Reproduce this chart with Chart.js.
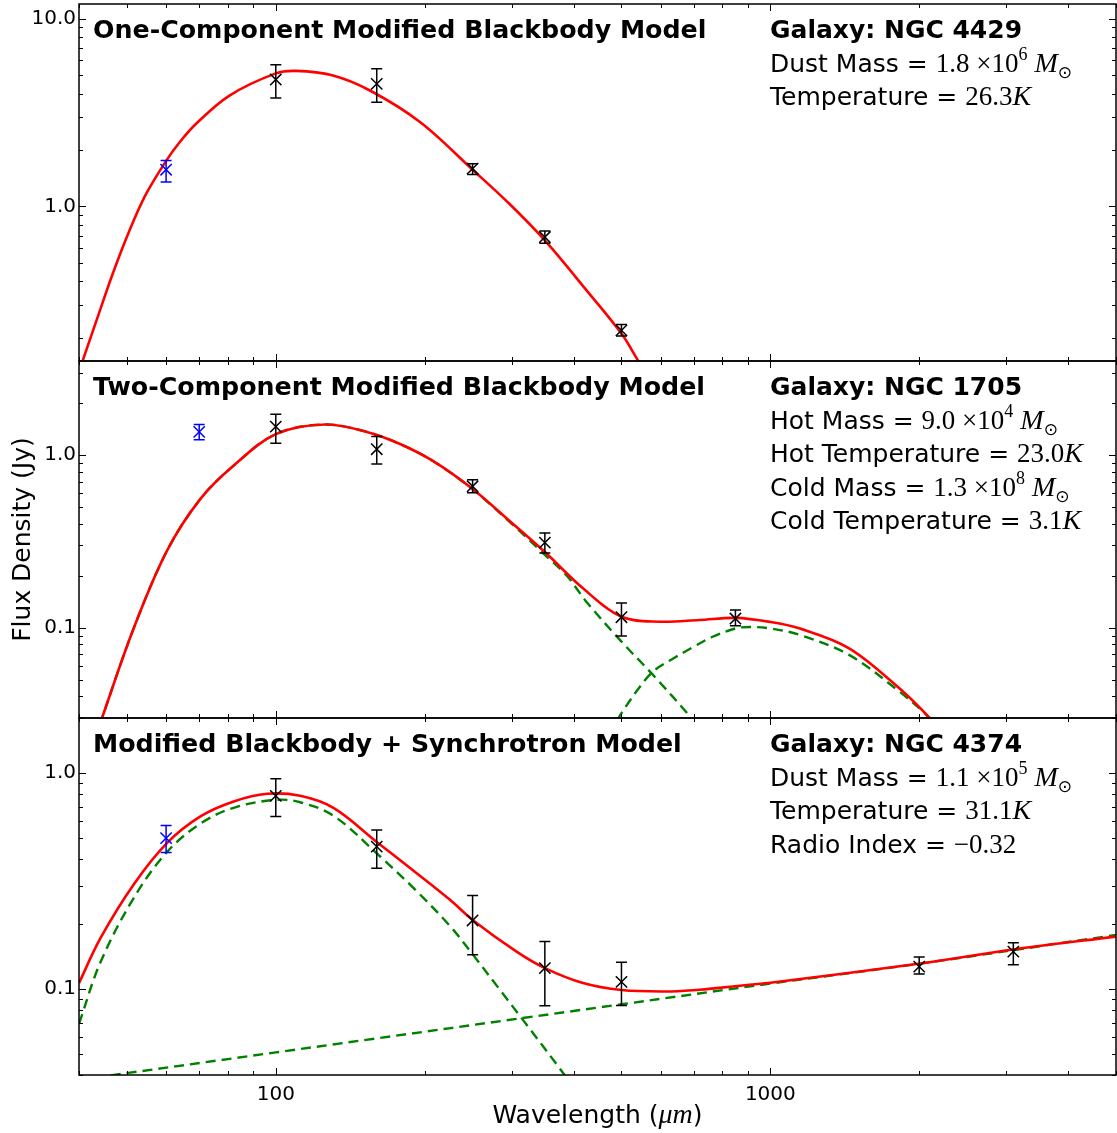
<!DOCTYPE html>
<html>
<head>
<meta charset="utf-8">
<title>SED fits</title>
<script src="https://cdn.jsdelivr.net/npm/chart.js@4.4.0/dist/chart.umd.min.js"></script>
<style>
  html, body { margin: 0; padding: 0; background: #fff; }
  #wrap { position: relative; width: 1117px; height: 1133px; }
  canvas { position: absolute; left: 0; }
</style>
</head>
<body>
<div id="wrap">
  <canvas id="c1" width="1117" height="366" style="top:0px"></canvas>
  <canvas id="c2" width="1117" height="367" style="top:356px"></canvas>
  <canvas id="c3" width="1117" height="420" style="top:713px"></canvas>
</div>
<script>
// wavelength axis (micron)
const xMin = 40;
const xMax = 5000;
const xTickValues = [100, 1000];
const xTickLabels = ["100", "1000"];

// ---- NGC 4429 : one-component modified blackbody ----
const n4429Wave = [100, 160, 250, 350, 500];
const n4429Flux = [4.75, 4.50, 1.59, 0.687, 0.2185];
const n4429Lo = [3.79, 3.59, 1.48, 0.637, 0.204];
const n4429Hi = [5.69, 5.42, 1.69, 0.739, 0.235];
const n4429BlueWave = [60];
const n4429BlueFlux = [1.57];
const n4429BlueLo = [1.35];
const n4429BlueHi = [1.76];
const n4429ModelWave = [40, 43.4, 46.8, 50.6, 54.7, 60.1, 63.9, 69, 80.6, 100, 110, 130, 155, 196, 250, 297, 350, 425, 500, 540, 560];
const n4429ModelFlux = [0.132, 0.247, 0.438, 0.745, 1.169, 1.76, 2.20, 2.76, 3.90, 5.12, 5.28, 5.0, 4.15, 2.81, 1.57, 1.03, 0.659, 0.357, 0.21, 0.151, 0.13];
const n4429YTicks = [1, 10];
const n4429YLabels = ["1.0", "10.0"];

// ---- NGC 1705 : two-component modified blackbody ----
const n1705Wave = [100, 160, 250, 350, 500, 850];
const n1705Flux = [1.46, 1.08, 0.659, 0.311, 0.115, 0.113];
const n1705Lo = [1.17, 0.888, 0.604, 0.271, 0.0896, 0.1027];
const n1705Hi = [1.72, 1.28, 0.718, 0.353, 0.139, 0.1265];
const n1705BlueWave = [70];
const n1705BlueFlux = [1.36];
const n1705BlueLo = [1.225];
const n1705BlueHi = [1.50];
const n1705ModelWave = [44, 51.6, 60.3, 70.4, 82.2, 100, 125.8, 152.8, 178.4, 208.2, 250, 297, 350, 418, 500, 597, 719, 850, 1000, 1144, 1443, 1821, 2093, 2150];
const n1705ModelFlux = [0.0272, 0.0992, 0.28, 0.557, 0.868, 1.32, 1.50, 1.36, 1.157, 0.92, 0.635, 0.415, 0.274, 0.169, 0.1157, 0.1083, 0.1108, 0.114, 0.108, 0.0992, 0.076, 0.0447, 0.0303, 0.027];
const n1705HotWave = [44, 51.6, 60.3, 70.4, 82.2, 100, 125.8, 152.8, 178.4, 208.2, 250, 297, 350, 387, 425, 500, 579, 690, 700];
const n1705HotFlux = [0.0272, 0.0992, 0.28, 0.557, 0.868, 1.32, 1.50, 1.36, 1.157, 0.92, 0.633, 0.41, 0.264, 0.201, 0.141, 0.083, 0.0533, 0.0303, 0.028];
const n1705ColdWave = [490, 500, 540, 579, 640, 697, 760, 850, 907, 1000, 1144, 1443, 1821, 2093, 2150];
const n1705ColdFlux = [0.029, 0.032, 0.044, 0.0557, 0.067, 0.077, 0.088, 0.099, 0.101, 0.099, 0.091, 0.0696, 0.0428, 0.0303, 0.027];
const n1705YTicks = [0.1, 1];
const n1705YLabels = ["0.1", "1.0"];

// ---- NGC 4374 : modified blackbody + synchrotron ----
const n4374Wave = [100, 160, 250, 350, 500, 2000, 3100];
const n4374Flux = [0.785, 0.457, 0.2078, 0.125, 0.108, 0.127, 0.149];
const n4374Lo = [0.63, 0.363, 0.144, 0.0837, 0.084, 0.1173, 0.1296];
const n4374Hi = [0.941, 0.546, 0.271, 0.166, 0.133, 0.1406, 0.164];
const n4374BlueWave = [60];
const n4374BlueFlux = [0.50];
const n4374BlueLo = [0.429];
const n4374BlueHi = [0.572];
const n4374ModelWave = [40, 44.2, 51.6, 60.3, 70.4, 82.2, 96, 112, 130.8, 160, 192.7, 225, 250, 306.8, 350, 418, 500, 616, 719, 777, 907, 1000, 1993, 3120, 5000];
const n4374ModelFlux = [0.1066, 0.172, 0.305, 0.475, 0.63, 0.739, 0.802, 0.785, 0.69, 0.48, 0.344, 0.259, 0.209, 0.149, 0.125, 0.1066, 0.099, 0.0975, 0.0993, 0.101, 0.1047, 0.107, 0.131, 0.153, 0.175];
const n4374DustWave = [40, 44.2, 51.6, 60.3, 70.4, 82.2, 100, 112, 130.8, 160, 192.7, 225, 250, 283.8, 316, 381, 420];
const n4374DustFlux = [0.069, 0.133, 0.264, 0.432, 0.584, 0.691, 0.752, 0.733, 0.635, 0.425, 0.284, 0.196, 0.145, 0.0993, 0.072, 0.0409, 0.030];
const n4374SyncWave = [40, 100, 500, 1000, 2000, 5000];
const n4374SyncFlux = [0.038, 0.0509, 0.085, 0.106, 0.131, 0.178];
const n4374YTicks = [0.1, 1];
const n4374YLabels = ["0.1", "1.0"];

const RED = "#ff0000";
const GREEN = "#008000";
const BLUE = "#0000ff";

const FONTS = {
    title: 'bold 25.3px "DejaVu Sans"',
    sans: '25px "DejaVu Sans"',
    bold: 'bold 25px "DejaVu Sans"',
    num: '27px "Liberation Serif"',
    it: 'italic 28px "Liberation Serif"',
    sup: '18px "Liberation Serif"',
    sub: '17px "DejaVu Sans"',
};
const SHIFT = { sup: -12, sub: 6 };

const pts = (xs, ys) => xs.map((x, i) => ({ x: x, y: ys[i] }));

// draws a row of mixed-font text starting at (x, y baseline)
const drawRuns = (ctx, x, y, runs) => {
    runs.forEach((r) => {
        ctx.font = FONTS[r.f];
        ctx.fillText(r.t, x, y + (SHIFT[r.f] || 0));
        x += ctx.measureText(r.t).width;
    });
};

const minorValues = (min, max) => {
    const out = [];
    for (let d = Math.floor(Math.log10(min)); d <= Math.ceil(Math.log10(max)); d++) {
        for (let k = 1; k <= 9; k++) {
            const v = k * Math.pow(10, d);
            if (v >= min * 0.999 && v <= max * 1.001) out.push({ v: v, major: k === 1 });
        }
    }
    return out;
};

const decorPlugin = {
    id: "decor",
    afterDatasetsDraw(chart, args, opts) {
        const { ctx, scales: { x, y } } = chart;
        ctx.save();
        ctx.lineWidth = 1.5;
        opts.errorBars.forEach((eb) => {
            ctx.strokeStyle = eb.color;
            eb.wave.forEach((w, i) => {
                const px = x.getPixelForValue(w);
                const lo = y.getPixelForValue(eb.lo[i]);
                const hi = y.getPixelForValue(eb.hi[i]);
                ctx.beginPath();
                ctx.moveTo(px, lo); ctx.lineTo(px, hi);
                ctx.moveTo(px - 5.5, lo); ctx.lineTo(px + 5.5, lo);
                ctx.moveTo(px - 5.5, hi); ctx.lineTo(px + 5.5, hi);
                ctx.stroke();
            });
        });
        ctx.restore();
    },
    afterDraw(chart, args, opts) {
        const { ctx, chartArea: a, scales: { x, y } } = chart;
        ctx.save();
        // inward ticks on all four sides
        ctx.strokeStyle = "#000";
        ctx.lineWidth = 1;
        ctx.beginPath();
        minorValues(x.min, x.max).forEach((t) => {
            const px = Math.round(x.getPixelForValue(t.v)) + 0.5;
            const len = t.major ? 7 : 4;
            ctx.moveTo(px, a.bottom); ctx.lineTo(px, a.bottom - len);
            ctx.moveTo(px, a.top); ctx.lineTo(px, a.top + len);
        });
        minorValues(y.min, y.max).forEach((t) => {
            const py = Math.round(y.getPixelForValue(t.v)) + 0.5;
            const len = t.major ? 7 : 4;
            ctx.moveTo(a.left, py); ctx.lineTo(a.left + len, py);
            ctx.moveTo(a.right, py); ctx.lineTo(a.right - len, py);
        });
        ctx.stroke();
        // frame
        ctx.lineWidth = 1.5;
        ctx.strokeRect(a.left, a.top, a.right - a.left, a.bottom - a.top);

        // panel texts
        ctx.fillStyle = "#000";
        ctx.textAlign = "left";
        ctx.textBaseline = "alphabetic";
        drawRuns(ctx, a.left + 14, a.top + 34, [{ t: opts.title, f: "title" }]);
        opts.info.forEach((row, i) => {
            drawRuns(ctx, a.left + 691, a.top + 34 + i * 33.5, row);
        });

        if (opts.yTitle) {
            ctx.save();
            ctx.translate(30, (a.top + a.bottom) / 2);
            ctx.rotate(-Math.PI / 2);
            ctx.textAlign = "center";
            ctx.font = FONTS.sans;
            ctx.fillText(opts.yTitle, 0, 0);
            ctx.restore();
        }
        if (opts.xTitle) {
            const runs = [
                { t: "Wavelength (", f: "sans" },
                { t: "\u03bcm", f: "it" },
                { t: ")", f: "sans" },
            ];
            let w = 0;
            runs.forEach((r) => { ctx.font = FONTS[r.f]; w += ctx.measureText(r.t).width; });
            drawRuns(ctx, (a.left + a.right) / 2 - w / 2, 1123 - 713, runs);
        }
        ctx.restore();
    },
};

const makePanel = (canvasId, p) => {
    const showX = !!p.xTitle;
    return new Chart(document.getElementById(canvasId), {
        type: "scatter",
        data: {
            datasets: [
                {
                    data: pts(p.blueWave, p.blueFlux),
                    pointStyle: "crossRot", pointRadius: 8, borderWidth: 1.5,
                    borderColor: BLUE, backgroundColor: BLUE, pointBorderColor: BLUE,
                },
                {
                    data: pts(p.wave, p.flux),
                    pointStyle: "crossRot", pointRadius: 8, borderWidth: 1.5,
                    borderColor: "#000", backgroundColor: "#000", pointBorderColor: "#000",
                },
                {
                    data: pts(p.modelWave, p.modelFlux),
                    showLine: true, pointRadius: 0, borderColor: RED, borderWidth: 2.6,
                    tension: 0.35,
                },
            ].concat(p.components.map((c) => ({
                data: pts(c.wave, c.flux),
                showLine: true, pointRadius: 0, borderColor: GREEN, borderWidth: 2.4,
                borderDash: [10, 6], tension: 0.35,
            }))),
        },
        options: {
            responsive: false,
            animation: false,
            events: [],
            layout: {
                autoPadding: false,
                padding: { top: p.padTop, bottom: p.padBottom, left: 0, right: 1 },
            },
            plugins: {
                legend: { display: false },
                tooltip: { enabled: false },
                decor: {
                    title: p.title, info: p.info, errorBars: p.errorBars,
                    yTitle: p.yTitle, xTitle: p.xTitle,
                },
            },
            scales: {
                x: {
                    type: "logarithmic", min: xMin, max: xMax, bounds: "data",
                    display: showX,
                    grid: { display: false, drawTicks: false },
                    border: { display: false },
                    afterBuildTicks: (s) => { s.ticks = xTickValues.map((v) => ({ value: v })); },
                    afterFit: (s) => {
                        s.height = showX ? 58 : 0;
                        s.paddingLeft = 0; s.paddingRight = 0;
                    },
                    ticks: {
                        autoSkip: false, maxRotation: 0, padding: 8, color: "#000",
                        font: { family: "DejaVu Sans", size: 20 },
                        callback: (v) => {
                            const i = xTickValues.indexOf(v);
                            return i >= 0 ? xTickLabels[i] : "";
                        },
                    },
                },
                y: {
                    type: "logarithmic", min: p.yMin, max: p.yMax, bounds: "data",
                    grid: { display: false, drawTicks: false },
                    border: { display: false },
                    afterBuildTicks: (s) => { s.ticks = p.yTicks.map((v) => ({ value: v })); },
                    afterFit: (s) => {
                        s.width = 79;
                        s.paddingTop = 0; s.paddingBottom = 0;
                    },
                    ticks: {
                        autoSkip: false, padding: 3, color: "#000",
                        font: { family: "DejaVu Sans", size: 20 },
                        callback: (v) => {
                            const i = p.yTicks.indexOf(v);
                            return i >= 0 ? p.yLabels[i] : "";
                        },
                    },
                },
            },
        },
        plugins: [decorPlugin],
    });
};

makePanel("c1", {
    title: "One-Component Modified Blackbody Model",
    info: [
        [{ t: "Galaxy: NGC 4429", f: "bold" }],
        [{ t: "Dust Mass = ", f: "sans" }, { t: "1.8 \u00d710", f: "num" }, { t: "6", f: "sup" }, { t: " M", f: "it" }, { t: "\u2299", f: "sub" }],
        [{ t: "Temperature = ", f: "sans" }, { t: "26.3", f: "num" }, { t: "K", f: "it" }],
    ],
    wave: n4429Wave, flux: n4429Flux,
    blueWave: n4429BlueWave, blueFlux: n4429BlueFlux,
    modelWave: n4429ModelWave, modelFlux: n4429ModelFlux,
    components: [],
    errorBars: [
        { wave: n4429BlueWave, lo: n4429BlueLo, hi: n4429BlueHi, color: BLUE },
        { wave: n4429Wave, lo: n4429Lo, hi: n4429Hi, color: "#000" },
    ],
    yMin: 0.15, yMax: 12, yTicks: n4429YTicks, yLabels: n4429YLabels,
    padTop: 4, padBottom: 5,
});

makePanel("c2", {
    title: "Two-Component Modified Blackbody Model",
    info: [
        [{ t: "Galaxy: NGC 1705", f: "bold" }],
        [{ t: "Hot Mass = ", f: "sans" }, { t: "9.0 \u00d710", f: "num" }, { t: "4", f: "sup" }, { t: " M", f: "it" }, { t: "\u2299", f: "sub" }],
        [{ t: "Hot Temperature = ", f: "sans" }, { t: "23.0", f: "num" }, { t: "K", f: "it" }],
        [{ t: "Cold Mass = ", f: "sans" }, { t: "1.3 \u00d710", f: "num" }, { t: "8", f: "sup" }, { t: " M", f: "it" }, { t: "\u2299", f: "sub" }],
        [{ t: "Cold Temperature = ", f: "sans" }, { t: "3.1", f: "num" }, { t: "K", f: "it" }],
    ],
    wave: n1705Wave, flux: n1705Flux,
    blueWave: n1705BlueWave, blueFlux: n1705BlueFlux,
    modelWave: n1705ModelWave, modelFlux: n1705ModelFlux,
    components: [
        { wave: n1705HotWave, flux: n1705HotFlux },
        { wave: n1705ColdWave, flux: n1705ColdFlux },
    ],
    errorBars: [
        { wave: n1705BlueWave, lo: n1705BlueLo, hi: n1705BlueHi, color: BLUE },
        { wave: n1705Wave, lo: n1705Lo, hi: n1705Hi, color: "#000" },
    ],
    yMin: 0.03, yMax: 3.5, yTicks: n1705YTicks, yLabels: n1705YLabels,
    yTitle: "Flux Density (Jy)",
    padTop: 5, padBottom: 5,
});

makePanel("c3", {
    title: "Modified Blackbody + Synchrotron Model",
    info: [
        [{ t: "Galaxy: NGC 4374", f: "bold" }],
        [{ t: "Dust Mass = ", f: "sans" }, { t: "1.1 \u00d710", f: "num" }, { t: "5", f: "sup" }, { t: " M", f: "it" }, { t: "\u2299", f: "sub" }],
        [{ t: "Temperature = ", f: "sans" }, { t: "31.1", f: "num" }, { t: "K", f: "it" }],
        [{ t: "Radio Index = ", f: "sans" }, { t: "\u22120.32", f: "num" }],
    ],
    wave: n4374Wave, flux: n4374Flux,
    blueWave: n4374BlueWave, blueFlux: n4374BlueFlux,
    modelWave: n4374ModelWave, modelFlux: n4374ModelFlux,
    components: [
        { wave: n4374DustWave, flux: n4374DustFlux },
        { wave: n4374SyncWave, flux: n4374SyncFlux },
    ],
    errorBars: [
        { wave: n4374BlueWave, lo: n4374BlueLo, hi: n4374BlueHi, color: BLUE },
        { wave: n4374Wave, lo: n4374Lo, hi: n4374Hi, color: "#000" },
    ],
    yMin: 0.04, yMax: 1.8, yTicks: n4374YTicks, yLabels: n4374YLabels,
    xTitle: true,
    padTop: 5, padBottom: 0,
});
</script>
</body>
</html>
